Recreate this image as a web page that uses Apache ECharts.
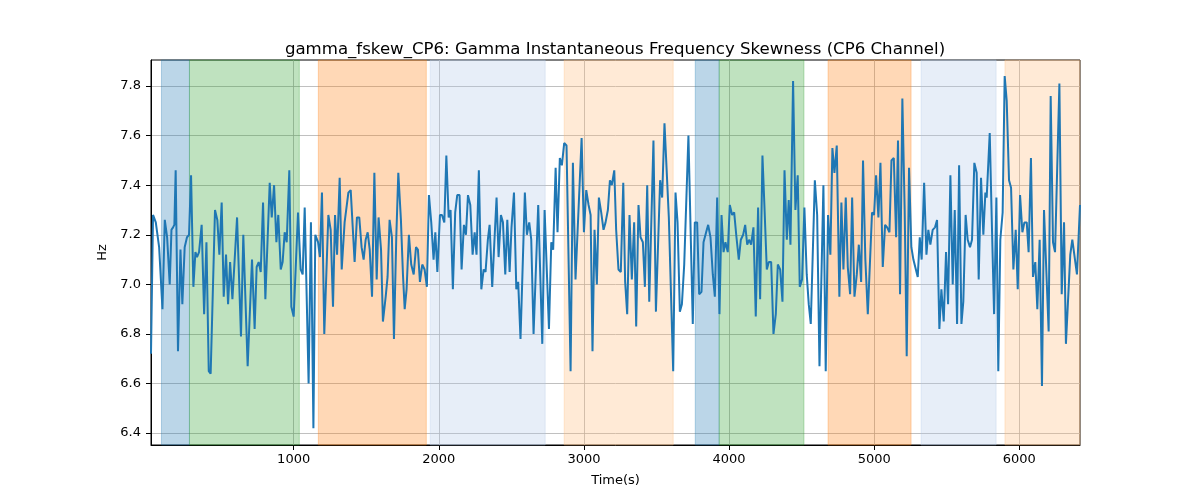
<!DOCTYPE html>
<html>
<head>
<meta charset="utf-8">
<script src="https://cdn.jsdelivr.net/npm/echarts@6/dist/echarts.min.js"></script>
<style>html,body{margin:0;padding:0;background:#fff;}#chart{width:1200px;height:500px;}</style>
</head>
<body>
<div id="chart"></div>
<script>
const titleText = 'gamma_fskew_CP6: Gamma Instantaneous Frequency Skewness (CP6 Channel)';
const xName = 'Time(s)';
const yName = 'Hz';
const xTicks = [1000, 2000, 3000, 4000, 5000, 6000];
const yTicks = [6.4, 6.6, 6.8, 7.0, 7.2, 7.4, 7.6, 7.8];
const xRange = [17, 6418];
const yRange = [6.352, 7.905];

const times = [
  17,31,50,73,96,112,128,146,158,169,178,187,203,220,233,249,265,279,293,309,323,334,348,366,383,399,415,428,458,474,488,504,518,534,548,562,578,
  610,637,653,683,713,731,745,759,773,789,805,835,849,865,881,894,911,924,938,952,970,984,1000,1030,1048,1062,1076,1103,1119,1136,1149,1168,
  1181,1195,1211,1239,1255,1271,1285,1299,1317,1331,1351,1377,1393,1420,1436,1452,1468,1482,1496,1510,1524,1540,1556,1572,1585,1602,1615,1634,1647,1661,1677,1691,1707,1721,1739,1753,
  1765,1778,1794,1810,1827,1843,1856,1870,1886,1902,1918,1932,1948,1964,1976,1990,2008,2022,2038,2052,2068,2081,2097,2113,2127,2143,2157,2173,2187,2201,2217,2233,2247,2260,2276,2293,2309,2322,2338,
  2350,2368,2382,2398,2412,2428,2442,2458,2472,2488,2501,2518,2534,2547,2563,2593,2607,2623,2637,2653,2685,2713,2729,2759,2775,2788,2805,2818,2834,2848,2864,2880,2908,2924,
  2942,2984,3000,3016,3032,3046,3059,3073,3089,3103,3119,3135,3149,3165,3179,3192,3209,3222,3238,3254,3271,3284,3298,3314,3330,3346,3360,3376,3390,3406,3420,3436,3450,3479,3496,
  3525,3539,3555,3585,3615,3631,3645,3661,3675,3691,3720,3750,3764,3780,3794,3810,3824,3842,3856,3872,3888,3902,3918,3934,3948,3962,3975,3991,4005,4021,4035,4051,4067,4081,4097,
  4111,4125,4138,4152,4168,4184,4200,4214,4230,4244,4260,4274,4290,4306,4322,4336,4352,4368,4382,4398,4411,4423,4441,4457,4473,4487,4503,4519,4535,4549,4563,4591,4607,4623,4650,4666,4682,
  4698,4712,4726,4742,4760,4774,4788,4804,4818,4834,4848,4864,4880,4894,4910,4923,4939,4956,4985,4999,5013,5029,5043,5059,5075,5089,5105,5119,5135,5151,5164,5178,5194,5210,5224,5240,5256,5270,
  5300,5314,5327,5344,5360,5373,5387,5403,5419,5433,5449,5463,5479,5495,5509,5525,5541,5555,5571,5585,5601,5614,5630,5644,5660,5674,5690,5706,5720,5736,5752,5766,5775,5796,5810,5826,5842,5855,
  5869,5885,5899,5913,5929,5943,5959,5975,5989,6005,6021,6035,6051,6064,6080,6094,6110,6124,6140,6156,6170,6202,6216,6232,6246,6276,6292,6308,6321,6351,6365,6397,6418
];
const values = [
  6.72,7.28,7.25,7.15,6.90,7.26,7.19,7.00,7.22,7.23,7.24,7.46,6.73,7.14,6.92,7.15,7.19,7.20,7.44,6.99,7.13,7.11,7.13,7.24,6.88,7.17,6.65,6.64,7.30,7.26,7.12,7.33,6.95,7.12,6.92,7.09,6.94,
  7.27,6.79,7.20,6.67,7.10,6.82,7.07,7.09,7.05,7.33,6.94,7.41,7.27,7.40,7.17,7.28,7.06,7.09,7.21,7.17,7.46,6.91,6.87,7.29,7.06,7.04,7.31,6.60,7.25,6.42,7.20,7.17,
  7.11,7.37,6.80,7.28,7.22,6.91,7.28,7.12,7.43,7.06,7.25,7.37,7.38,7.09,7.27,7.27,7.15,7.10,7.18,7.21,7.14,6.95,7.45,7.02,7.27,7.14,6.85,6.95,7.03,7.26,7.19,6.78,7.19,7.45,7.26,7.04,
  6.90,6.98,7.20,7.08,7.04,7.15,7.14,7.01,7.08,7.06,6.99,7.36,7.25,7.10,7.21,7.05,7.28,7.28,7.25,7.52,7.27,7.30,6.98,7.29,7.36,7.36,7.06,7.24,7.20,7.36,7.32,7.12,7.21,7.12,7.46,6.98,7.06,7.05,7.18,
  7.24,6.99,7.16,7.35,7.11,7.28,7.25,7.04,7.26,7.05,7.23,7.37,6.98,7.01,6.78,7.37,7.20,7.25,7.18,6.80,7.32,6.76,7.30,6.82,7.17,7.14,7.47,7.21,7.51,7.48,7.57,7.56,6.65,7.49,
  7.02,7.59,7.21,7.38,7.32,7.28,6.73,7.22,7.00,7.35,7.29,7.22,7.25,7.30,7.42,7.40,7.46,7.22,7.06,7.05,7.41,7.01,6.88,7.28,7.02,7.25,6.83,7.32,7.19,7.17,6.99,7.40,6.93,7.58,6.89,
  7.42,7.35,7.65,7.27,6.65,7.37,7.25,6.89,6.92,7.08,7.60,6.84,7.25,7.25,6.96,6.97,7.17,7.21,7.24,7.19,7.04,6.95,7.35,6.88,7.28,7.13,7.17,7.13,7.32,7.28,7.29,7.19,7.10,7.18,7.20,
  7.24,7.16,7.18,7.16,7.23,6.87,7.31,6.94,7.52,7.31,7.06,7.09,7.09,6.80,6.88,7.08,7.06,6.93,7.46,7.18,7.34,7.16,7.82,7.30,7.44,6.99,7.02,7.31,7.04,6.92,6.84,7.42,7.28,6.67,7.40,6.65,7.28,
  7.12,7.55,7.45,7.56,6.95,7.33,7.06,7.35,7.07,6.96,7.35,6.95,7.04,7.16,7.01,7.50,7.10,6.88,7.29,7.28,7.44,7.27,7.49,7.07,7.24,7.23,7.21,7.50,7.51,7.19,7.58,6.96,7.75,7.30,6.71,7.47,7.15,7.10,
  7.03,7.19,7.10,7.41,7.12,7.22,7.16,7.22,7.23,7.26,6.82,6.98,6.85,7.13,6.92,7.44,7.00,7.30,6.84,7.48,6.84,6.93,7.28,7.18,7.15,7.18,7.49,7.45,7.02,7.43,7.20,7.37,7.35,7.61,7.26,6.88,7.35,6.65,
  7.18,7.29,7.84,7.74,7.42,7.39,7.06,7.22,6.98,7.36,7.21,7.25,7.25,7.13,7.51,7.03,7.09,6.90,7.18,6.59,7.30,6.81,7.76,7.17,7.13,7.81,6.96,7.25,6.76,7.12,7.18,7.04,7.32
];

const bandStarts = [89, 282, 1170, 1941, 2864, 3767, 3932, 4682, 5323, 5901];
const bandEnds   = [282, 1039, 1914, 2733, 3615, 3932, 4516, 5254, 5840, 6418];
const bandKinds  = ['blue','green','orange','lightblue','lightorange','blue','green','orange','lightblue','lightorange'];

const kindColor = {
  blue: 'rgba(31,119,180,0.3)',
  green: 'rgba(44,160,44,0.3)',
  orange: 'rgba(255,127,14,0.3)',
  lightblue: 'rgba(174,199,232,0.3)',
  lightorange: 'rgba(255,187,120,0.3)'
};

const n = Math.min(times.length, values.length);
const lineData = [];
for (let i = 0; i < n; i++) lineData.push([times[i], values[i]]);

const areas = bandStarts.map((s, i) => [
  { xAxis: s, itemStyle: { color: kindColor[bandKinds[i]], borderColor: kindColor[bandKinds[i]], borderWidth: 1 } },
  { xAxis: bandEnds[i] }
]);

const isTick = (arr, v) => arr.some(t => Math.abs(t - v) < 1e-6);

const font = 'DejaVu Sans';
const chart = echarts.init(document.getElementById('chart'), null, { renderer: 'canvas' });
chart.setOption({
  animation: false,
  backgroundColor: '#ffffff',
  title: {
    text: titleText,
    left: 610, top: 36, textAlign: 'center',
    textStyle: { fontFamily: font, fontSize: 16.6, fontWeight: 'normal', color: '#000' }
  },
  grid: { left: 151, right: 120, top: 60, bottom: 55, show: true, borderColor: '#000', borderWidth: 1, backgroundColor: 'transparent' },
  xAxis: {
    type: 'value', min: xRange[0], max: xRange[1], splitNumber: 6,
    name: xName, nameLocation: 'middle', nameGap: 29,
    nameTextStyle: { fontFamily: font, fontSize: 13, color: '#000' },
    axisLine: { show: true, onZero: false, lineStyle: { color: '#000', width: 1 } },
    axisTick: { show: true, length: 5, lineStyle: { color: '#000' }, customValues: xTicks },
    axisLabel: { fontFamily: font, fontSize: 13, color: '#000', margin: 8, customValues: xTicks,
      formatter: v => (isTick(xTicks, v) ? String(Math.round(v)) : '') },
    splitLine: { show: true, lineStyle: { color: '#b0b0b0', width: 0.8 } }
  },
  yAxis: {
    type: 'value', min: yRange[0], max: yRange[1], splitNumber: 7,
    name: yName, nameLocation: 'middle', nameGap: 40,
    nameTextStyle: { fontFamily: font, fontSize: 13, color: '#000' },
    axisLine: { show: true, onZero: false, lineStyle: { color: '#000', width: 1 } },
    axisTick: { show: true, length: 5, lineStyle: { color: '#000' }, customValues: yTicks },
    axisLabel: { fontFamily: font, fontSize: 13, color: '#000', margin: 10, customValues: yTicks,
      formatter: v => (isTick(yTicks, v) ? v.toFixed(1) : '') },
    splitLine: { show: true, lineStyle: { color: '#b0b0b0', width: 0.8 } }
  },
  series: [{
    type: 'line',
    data: lineData,
    showSymbol: false,
    symbol: 'none',
    lineStyle: { color: '#1f77b4', width: 2 },
    itemStyle: { color: '#1f77b4' },
    z: 3,
    markArea: { silent: true, data: areas }
  }]
});
</script>
</body>
</html>
